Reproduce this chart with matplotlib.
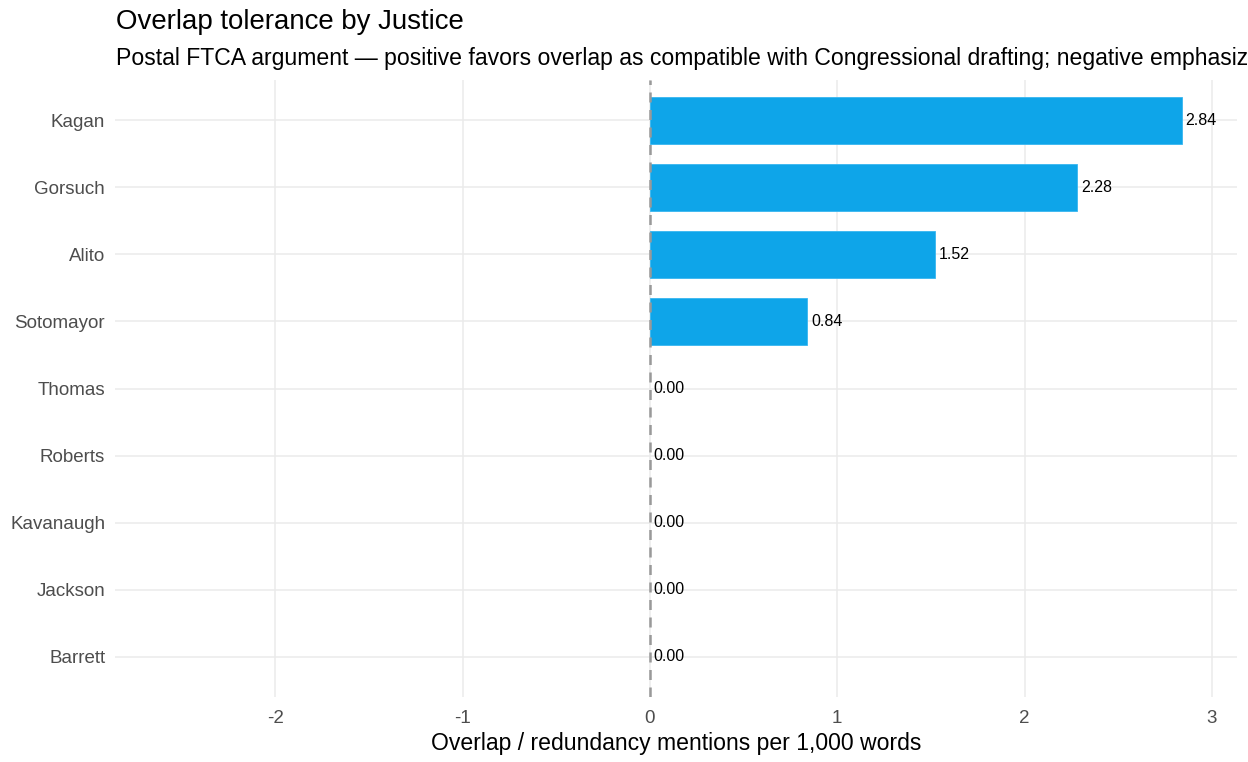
import matplotlib
matplotlib.use("Agg")
import matplotlib.pyplot as plt

plt.rcParams['font.family'] = ['Liberation Sans', 'DejaVu Sans']

# data, top row first
justices = ["Kagan", "Gorsuch", "Alito", "Sotomayor", "Thomas",
            "Roberts", "Kavanaugh", "Jackson", "Barrett"]
overlap_rate = [2.84, 2.28, 1.52, 0.84, 0.00, 0.00, 0.00, 0.00, 0.00]
x_ticks = [-2, -1, 0, 1, 2, 3]

bar_color = "#0EA5E9"
grid_color = "#EBEBEB"
text_gray = "#4D4D4D"

fig = plt.figure(figsize=(12.48, 7.62), dpi=100)
ax = fig.add_axes([0.0921, 0.0853, 0.8991, 0.8097])

ypos = list(range(len(justices)))[::-1]
# no outline on zero-width bars
edge_w = [0.6 if v > 0 else 0 for v in overlap_rate]
ax.barh(ypos, overlap_rate, height=0.7, color=bar_color,
        edgecolor="#38B6F0", linewidth=edge_w, zorder=2)

for y, v in zip(ypos, overlap_rate):
    ax.text(v + 0.02, y, f"{v:.2f}", va="center", ha="left",
            fontsize=11.5, color="black", zorder=4)

ax.axvline(0, color="#999999", linestyle=(0, (4, 3)), linewidth=1.8, zorder=3)

ax.set_xlim(-2.856, 3.134)
ax.set_ylim(-0.6, len(justices) - 1 + 0.6)
ax.set_xticks(x_ticks)
ax.set_xticklabels([str(t) for t in x_ticks])
ax.set_yticks(ypos)
ax.set_yticklabels(justices)

ax.grid(True, color=grid_color, linewidth=1.1, zorder=0)
ax.set_axisbelow(True)
for s in ax.spines.values():
    s.set_visible(False)
ax.tick_params(axis="both", length=0, labelsize=13.5, labelcolor=text_gray)
ax.tick_params(axis="x", pad=9)
ax.tick_params(axis="y", pad=7)

ax.set_xlabel("Overlap / redundancy mentions per 1,000 words",
              fontsize=16.6, color="black", labelpad=4)

fig.text(116 / 1248, 1 - 22 / 762, "Overlap tolerance by Justice",
         fontsize=19.9, color="black", ha="left", va="center")
fig.text(116 / 1248, 1 - 59 / 762,
         "Postal FTCA argument \u2014 positive favors overlap as compatible with "
         "Congressional drafting; negative emphasizes surplusage concerns",
         fontsize=16.6, color="black", ha="left", va="center")

fig.savefig("out.png", dpi=100)
